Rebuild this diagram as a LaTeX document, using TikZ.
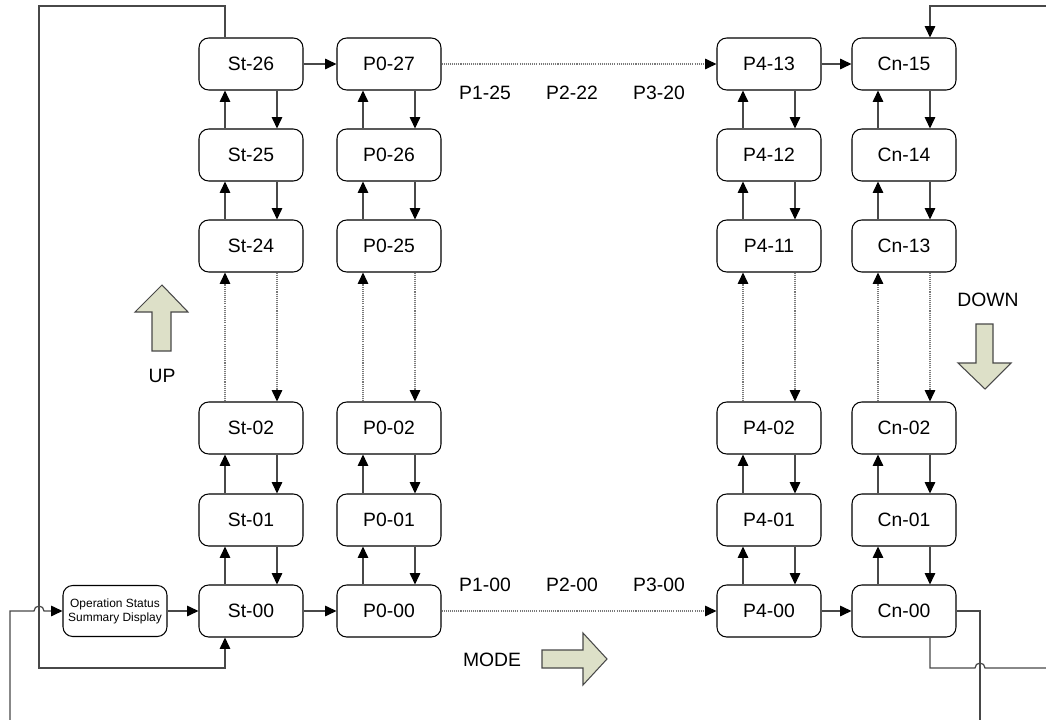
\documentclass[tikz,border=0pt]{standalone}
\usepackage{fontspec}
\setmainfont{Liberation Sans}
\usetikzlibrary{arrows.meta, positioning, calc}
\definecolor{wiregray}{RGB}{72, 72, 72}
\definecolor{dotgray}{RGB}{120, 120, 120}
\definecolor{modefill}{RGB}{221, 224, 200}

\tikzset{
  menubox/.style={draw=black, line width=0.6pt, rounded corners=5.5pt,
    minimum width=2.08cm, minimum height=1.04cm, inner sep=0pt,
    font=\fontsize{11}{13}\selectfont},
  smallbox/.style={menubox, minimum height=1.02cm, align=center,
    font=\fontsize{6.8}{8}\selectfont},
  wire/.style={draw=wiregray, line width=0.7pt},
  flow/.style={wire, -{Triangle[length=6.5pt, width=6pt, color=black]}},
  dotline/.style={draw=dotgray, dash pattern=on 0.6pt off 0.6pt},
  bigarrow/.style={fill=modefill, draw=wiregray, line width=0.6pt},
  tag/.style={font=\fontsize{11}{13}\selectfont}
}

\begin{document}
\begin{tikzpicture}[x=0.02cm, y=-0.02cm]
    \useasboundingbox (0,0) rectangle (1046,720);

    % Menu columns
    \foreach \col/\cx/\pre/\na/\nb/\nc in {st/251/St/26/25/24, p0/389/P0/27/26/25,
                                          p4/769/P4/13/12/11, cn/904/Cn/15/14/13} {
        \node[menubox] (\col1) at (\cx,64)  {\pre-\na};
        \node[menubox] (\col2) at (\cx,155) {\pre-\nb};
        \node[menubox] (\col3) at (\cx,246) {\pre-\nc};
        \node[menubox] (\col4) at (\cx,428) {\pre-02};
        \node[menubox] (\col5) at (\cx,520) {\pre-01};
        \node[menubox] (\col6) at (\cx,611) {\pre-00};

        % up and down links
        \foreach \lo/\hi in {2/1, 3/2, 5/4, 6/5} {
            \draw[flow] ($(\col\lo.north)+(-26,0)$) -- ($(\col\hi.south)+(-26,0)$);
            \draw[flow] ($(\col\hi.south)+(26,0)$) -- ($(\col\lo.north)+(26,0)$);
        }
        \draw[flow, dotline] ($(\col4.north)+(-26,0)$) -- ($(\col3.south)+(-26,0)$);
        \draw[flow, dotline] ($(\col3.south)+(26,0)$) -- ($(\col4.north)+(26,0)$);
    }

    % Status display
    \node[smallbox] (osd) at (115,611) {Operation Status\\Summary Display};

    % Mode links
    \draw[flow] (st1.east) -- (p01.west);
    \draw[flow, dotline] (p01.east) -- (p41.west);
    \draw[flow] (p41.east) -- (cn1.west);
    \draw[flow] (osd.east) -- (st6.west);
    \draw[flow] (st6.east) -- (p06.west);
    \draw[flow, dotline] (p06.east) -- (p46.west);
    \draw[flow] (p46.east) -- (cn6.west);

    % Skipped groups
    \node[tag] (p1top) at (485,93) {P1-25};
    \node[tag] (p2top) at (572,93) {P2-22};
    \node[tag] (p3top) at (659,93) {P3-20};
    \node[tag] (p1bot) at (485,585) {P1-00};
    \node[tag] (p2bot) at (572,585) {P2-00};
    \node[tag] (p3bot) at (659,585) {P3-00};

    % Wrap-around loops
    \coordinate (lt) at (39,6);
    \coordinate (lb) at (39,668);
    \draw[flow] ($(st1.north)+(-26,0)$) |- (lt) -- (lb) -| ($(st6.south)+(-26,0)$);

    \coordinate (lbot) at (10,720);
    \coordinate (jl) at (34,611);
    \draw[flow] (lbot) |- (jl) arc[start angle=180, end angle=0, radius=0.1cm] -- (osd.west);

    \coordinate (rbot) at (980,720);
    \draw[wire] (cn6.east) -| (rbot);

    \coordinate (jr) at (975,668);
    \coordinate (rside) at (1046,668);
    \draw[wire] ($(cn6.south)+(26,0)$) |- (jr) arc[start angle=180, end angle=0, radius=0.1cm] -- (rside);

    \coordinate (rtop) at (1046,6);
    \draw[flow] (rtop) -| ($(cn1.north)+(26,0)$);

    % Key arrows
    \filldraw[bigarrow] (162,285) -- (188,312) -- (171,312) -- (171,351)
        -- (152,351) -- (152,312) -- (135,312) -- cycle;
    \node[tag] (uptag) at (162,376) {UP};

    \filldraw[bigarrow] (985,389) -- (1011,363) -- (993,363) -- (993,324)
        -- (976,324) -- (976,363) -- (958,363) -- cycle;
    \node[tag] (downtag) at (988,300) {DOWN};

    \filldraw[bigarrow] (607,659) -- (583,633) -- (583,650) -- (542,650)
        -- (542,668) -- (583,668) -- (583,685) -- cycle;
    \node[tag] (modetag) at (492,660) {MODE};
\end{tikzpicture}
\end{document}
